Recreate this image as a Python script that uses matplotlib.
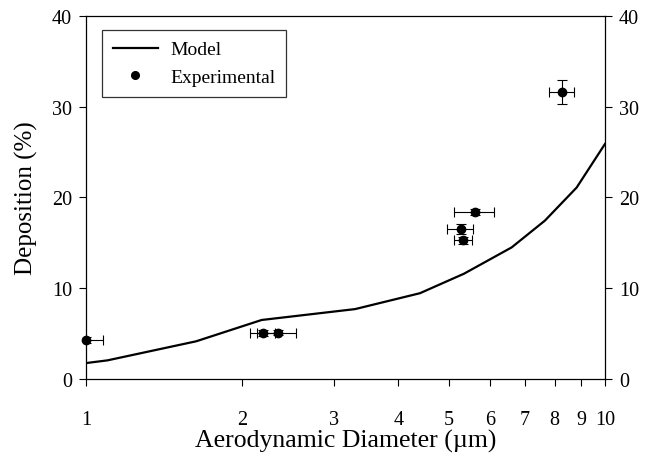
import matplotlib
matplotlib.use("Agg")
import matplotlib.pyplot as plt
from matplotlib.ticker import FixedLocator, NullLocator, FixedFormatter
from matplotlib.lines import Line2D

plt.rcParams['font.family'] = ['Liberation Serif', 'DejaVu Serif']

# Model curve
model_x = [1.0, 1.10, 1.63, 2.18, 3.30, 4.40, 5.35, 6.61, 7.66, 8.82, 10.0]
model_y = [1.75, 2.05, 4.15, 6.5, 7.7, 9.45, 11.6, 14.5, 17.45, 21.1, 25.9]

# Experimental data
exp_x = [1.0, 2.19, 2.34, 5.62, 5.27, 5.33, 8.25]
exp_y = [4.3, 5.05, 5.1, 18.4, 16.5, 15.3, 31.6]
exp_xerr = [0.08, 0.12, 0.2, 0.5, 0.3, 0.21, 0.46]
exp_yerr = [0.3, 0.3, 0.3, 0.35, 0.55, 0.4, 1.35]

x_ticks = [1, 2, 3, 4, 5, 6, 7, 8, 9, 10]
x_ticklabels = ['1', '2', '3', '4', '5', '6', '7', '8', '9', '10']
y_ticks = [0, 10, 20, 30, 40]

fig = plt.figure(figsize=(6.51, 4.60), dpi=100)
ax = fig.add_axes([0.1321, 0.174, 0.7972, 0.789])

ax.plot(model_x, model_y, color='black', lw=1.6, zorder=3)
ax.errorbar(exp_x, exp_y, xerr=exp_xerr, yerr=exp_yerr, fmt='none', ecolor='black',
            elinewidth=0.8, capsize=3.5, capthick=0.8, zorder=4)
ax.plot(exp_x, exp_y, 'o', color='black', ms=6, zorder=5, clip_on=False)

ax.set_xscale('log')
ax.set_xlim(1, 10)
ax.set_ylim(0, 40)
ax.xaxis.set_major_locator(FixedLocator(x_ticks))
ax.xaxis.set_major_formatter(FixedFormatter(x_ticklabels))
ax.xaxis.set_minor_locator(NullLocator())
ax.set_yticks(y_ticks)

ax.tick_params(axis='both', direction='out', length=5, width=0.8, labelsize=14.5)
ax.tick_params(axis='y', right=True, labelright=True, pad=5)
ax.tick_params(axis='x', top=False, pad=17)
for s in ax.spines.values():
    s.set_linewidth(0.9)

ax.set_xlabel('Aerodynamic Diameter (µm)', fontsize=18.5, labelpad=0)
ax.set_ylabel('Deposition (%)', fontsize=18, labelpad=10)

h2 = [Line2D([], [], color='black', lw=1.6),
      Line2D([], [], color='black', marker='o', ls='none', ms=5.5)]
leg = ax.legend(h2, ['Model', 'Experimental'], loc='upper left',
                bbox_to_anchor=(0.031, 0.961), borderaxespad=0, fontsize=14,
                frameon=True, fancybox=False, edgecolor='black',
                handlelength=2.3, handletextpad=0.65, borderpad=0.55,
                labelspacing=0.5)
leg.get_frame().set_linewidth(0.9)

fig.savefig('out.png', dpi=100)
